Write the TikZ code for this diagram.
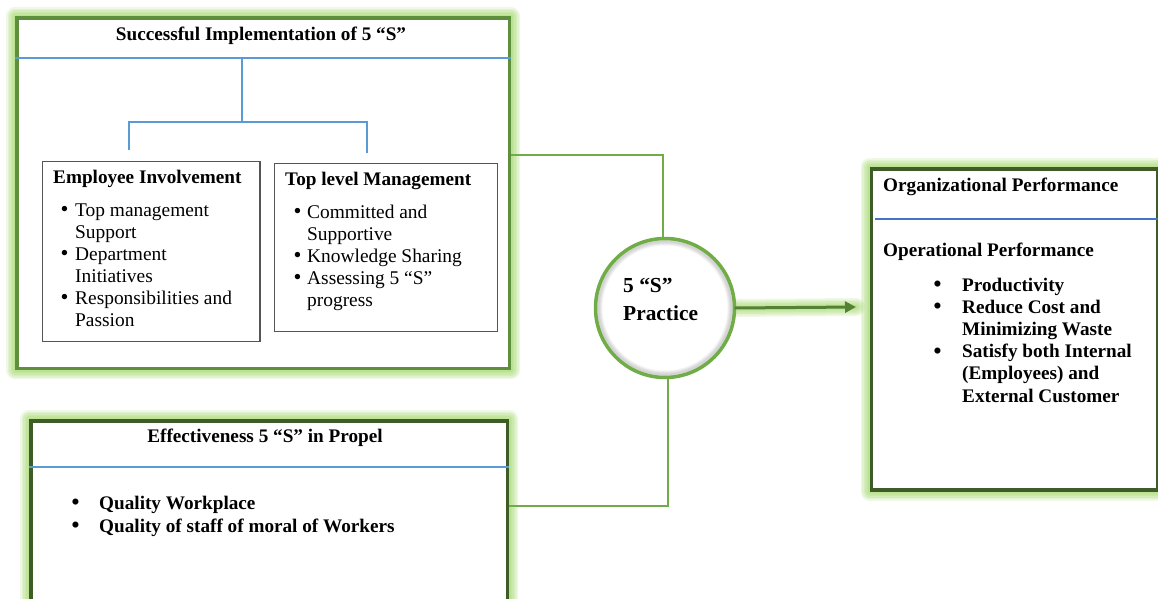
\documentclass[tikz,border=0pt]{standalone}
\usepackage{fontspec}
\setmainfont{Liberation Serif}
\usetikzlibrary{arrows.meta,backgrounds}

\definecolor{boxgreen}{HTML}{5E8F3C}
\definecolor{darkgreen}{HTML}{3D5C27}
\definecolor{linkgreen}{HTML}{70AD47}
\definecolor{arrowgreen}{HTML}{548235}
\definecolor{glowgreen}{HTML}{92D050}
\definecolor{ruleblue}{HTML}{5B9BD5}
\definecolor{ruleblue2}{HTML}{4472C4}
\definecolor{framegray}{HTML}{555555}

\tikzset{
  panel/.style={draw=boxgreen, line width=3.5pt, fill=white, inner sep=0pt, anchor=north west},
  darkpanel/.style={panel, draw=darkgreen},
  subbox/.style={draw=framegray, line width=1.3pt, fill=white, inner sep=0pt, anchor=north west},
  hub/.style={circle, fill=white, inner sep=0pt, minimum size=139pt},
  glowline/.style={draw=glowgreen, opacity=0.15, line join=round, line cap=round},
  link/.style={draw=linkgreen, line width=2pt},
  tree/.style={draw=ruleblue, line width=2pt},
  rule/.style={draw=ruleblue, line width=1.6pt},
  flow/.style={draw=arrowgreen, line width=3pt, -{Triangle[length=11pt,width=11pt]}},
  ttl/.style={font=\bfseries\fontsize{19.2}{22}\selectfont, inner sep=0pt},
  txt/.style={font=\fontsize{19.4}{22}\selectfont, inner sep=0pt, anchor=base west},
  btxt/.style={font=\bfseries\fontsize{19.2}{22.2}\selectfont, inner sep=0pt, anchor=base west},
}

% soft green halo traced along a path
\newcommand\halo[1]{\foreach \gw in {3,6,9,12,15,18}{\draw[glowline, line width=\gw pt] #1;}}
% list bullet, a little heavier than the text font's own
\newcommand\bul{\smash{\raisebox{-0.6pt}{\fontsize{22.5}{0}\selectfont\textbullet}}}

\begin{document}
\begin{tikzpicture}[x=1pt,y=-1pt]
\clip (0,0) rectangle (1158,599);

% ---- panels ----
\node[panel, minimum width=492.5pt, minimum height=350pt] (imp) at (15,16.5) {};
\node[darkpanel, minimum width=476.5pt, minimum height=220pt] (eff) at (29,419) {};
\node[darkpanel, minimum width=286pt, minimum height=321pt] (org) at (869.5,167) {};

\begin{pgfonlayer}{background}
  \halo{(imp.north west) rectangle (imp.south east)}
  \halo{(eff.north west) rectangle (eff.south east)}
  \halo{(org.north west) rectangle (org.south east)}
\end{pgfonlayer}

% ---- Successful Implementation panel ----
\node[ttl, anchor=base] (impT) at (261,40.5) {Successful Implementation of 5 “S”};
\coordinate (r1) at (0,58);
\draw[tree] (imp.west |- r1) -- (imp.east |- r1);
\coordinate (stem) at (242,58);
\coordinate (fork) at (242,122);
\coordinate (forkL) at (129,122);
\coordinate (forkR) at (367,122);
\draw[tree] (stem) -- (fork);
\draw[tree] (forkL |- 0,150) -- (forkL) -- (forkR) -- (forkR |- 0,153);

\node[subbox, minimum width=217.6pt, minimum height=180pt] (emp) at (41.7,160.7) {};
\node[subbox, minimum width=223pt, minimum height=168pt] (top) at (273.7,163) {};

\node[ttl, anchor=base west] (empT) at (53,183) {Employee Involvement};
\node[txt] (empL) at (60.5,216) {\begin{tabular}[t]{@{}p{14.5pt}@{}l@{}}
  \bul & Top management\\
       & Support\\
  \bul & Department\\
       & Initiatives\\
  \bul & Responsibilities and\\
       & Passion
\end{tabular}};

\node[ttl, anchor=base west] (topT) at (285,185) {Top level Management};
\node[txt] (topL) at (293.5,218) {\begin{tabular}[t]{@{}p{13.5pt}@{}l@{}}
  \bul & Committed and\\
       & Supportive\\
  \bul & Knowledge Sharing\\
  \bul & Assessing 5 “S”\\
       & progress
\end{tabular}};

% ---- Effectiveness panel ----
\node[ttl, anchor=base] (effT) at (265,442) {Effectiveness 5 “S” in Propel};
\coordinate (r2) at (0,467);
\draw[rule] (eff.west |- r2) -- (eff.east |- r2);
\node[btxt, font=\bfseries\fontsize{19.2}{23}\selectfont] (effL) at (71.5,509) {\begin{tabular}[t]{@{}p{27.5pt}@{}l@{}}
  \bul & Quality Workplace\\
  \bul & Quality of staff of moral of Workers
\end{tabular}};

% ---- Organizational Performance panel ----
\node[ttl, anchor=base west] (orgT) at (883,191) {Organizational Performance};
\coordinate (r3) at (875,219);
\draw[rule, draw=ruleblue2] (r3) -- (org.east |- r3);
\node[ttl, anchor=base west] (opT) at (883,256) {Operational Performance};
\node[btxt] (orgL) at (933.5,291) {\begin{tabular}[t]{@{}p{28.5pt}@{}l@{}}
  \bul & Productivity\\
  \bul & Reduce Cost and\\
       & Minimizing Waste\\
  \bul & Satisfy both Internal\\
       & (Employees) and\\
       & External Customer
\end{tabular}};

% ---- central hub ----
\node[hub] (prac) at (665,308) {};
\foreach \k in {1,...,4}{\draw[black, opacity=0.045, line width=2*\k pt] (prac.center) circle (66.5);}
\draw[linkgreen, line width=3.5pt] (prac.center) circle (69.5);
\node[font=\bfseries\fontsize{21.4}{28}\selectfont, align=left, inner sep=0pt, anchor=north west] (pracT) at (623,278) {5 “S”\\Practice};

% ---- connectors ----
\coordinate (j1) at (663,155);
\draw[link] (imp.east |- j1) -- (j1) -- (j1 |- prac.north);
\coordinate (j2) at (668,506);
\draw[link] (j2 |- prac.south) -- (j2) -- (eff.east |- j2);

\coordinate (tip) at (856,307);
\begin{pgfonlayer}{background}
  \halo{(prac.east) -- (tip)}
\end{pgfonlayer}
\draw[flow] (prac.east) -- (tip);

\end{tikzpicture}
\end{document}
